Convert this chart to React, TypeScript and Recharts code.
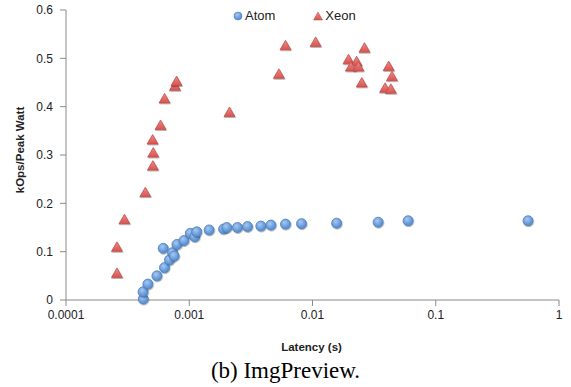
import React from 'react';
import { ScatterChart, Scatter, XAxis, YAxis } from 'recharts';

const atomLatency = [0.000424, 0.000422, 0.000462, 0.000547, 0.00063, 0.000615, 0.000692, 0.000732, 0.000755, 0.000795, 0.000906, 0.00102, 0.00111, 0.00115, 0.00145, 0.0019, 0.00202, 0.00246, 0.00297, 0.00381, 0.0046, 0.00604, 0.00815, 0.0157, 0.0341, 0.0597, 0.561];
const atomEff = [0.002, 0.017, 0.033, 0.05, 0.067, 0.107, 0.083, 0.098, 0.091, 0.115, 0.123, 0.138, 0.131, 0.141, 0.145, 0.147, 0.15, 0.15, 0.152, 0.153, 0.155, 0.157, 0.158, 0.159, 0.161, 0.164, 0.164];

const xeonLatency = [0.000259, 0.000259, 0.000298, 0.00044, 0.000507, 0.00051, 0.000504, 0.000585, 0.00063, 0.000766, 0.000789, 0.00212, 0.00534, 0.00604, 0.0106, 0.0196, 0.0228, 0.0205, 0.0236, 0.0264, 0.0251, 0.0415, 0.0441, 0.0388, 0.0432];
const xeonEff = [0.055, 0.109, 0.166, 0.222, 0.277, 0.304, 0.331, 0.361, 0.416, 0.442, 0.452, 0.388, 0.467, 0.526, 0.533, 0.497, 0.493, 0.482, 0.482, 0.521, 0.449, 0.483, 0.462, 0.438, 0.436];

const xTicks = [0.0001, 0.001, 0.01, 0.1, 1];
const xTickLabels = ['0.0001', '0.001', '0.01', '0.1', '1'];
const yTicks = [0, 0.1, 0.2, 0.3, 0.4, 0.5, 0.6];
const yTickLabels = ['0', '0.1', '0.2', '0.3', '0.4', '0.5', '0.6'];

const atomData = atomLatency.map((x, i) => ({ x, y: atomEff[i] }));
const xeonData = xeonLatency.map((x, i) => ({ x, y: xeonEff[i] }));

const FONT = '"Liberation Sans", Arial, sans-serif';
const AXIS = '#8a8a8a';

const Circle = (p: any) => (
  <circle cx={p.cx} cy={p.cy} r={5} fill="url(#blueGrad)" stroke="#4f81bd" strokeWidth={0.8} filter="url(#shadow)" />
);
const Tri = (p: any) => {
  const { cx, cy } = p;
  const d = `M${cx},${cy - 5.5} L${cx + 5.5},${cy + 4} L${cx - 5.5},${cy + 4} Z`;
  return <path d={d} fill="url(#redGrad)" stroke="#b94a48" strokeWidth={0.7} filter="url(#shadow)" />;
};

export default function App() {
  return (
    <div style={{ position: 'absolute', left: 0, top: 0, width: 571, height: 387, background: '#fff' }}>
      <svg width={0} height={0} style={{ position: 'absolute' }}>
        <defs>
          <radialGradient id="blueGrad" cx="40%" cy="35%" r="70%">
            <stop offset="0%" stopColor="#a9c8f0" />
            <stop offset="60%" stopColor="#6b9edb" />
            <stop offset="100%" stopColor="#4f86cc" />
          </radialGradient>
          <linearGradient id="redGrad" x1="0" y1="0" x2="0" y2="1">
            <stop offset="0%" stopColor="#ee8a86" />
            <stop offset="100%" stopColor="#d9534f" />
          </linearGradient>
          <filter id="shadow" x="-50%" y="-50%" width="200%" height="200%">
            <feDropShadow dx="0.5" dy="1" stdDeviation="0.7" floodColor="#000" floodOpacity="0.35" />
          </filter>
        </defs>
      </svg>
      <ScatterChart width={571} height={360} margin={{ top: 10, right: 12, left: 0, bottom: 0 }}>
        <XAxis
          type="number"
          dataKey="x"
          scale="log"
          domain={[0.0001, 1]}
          ticks={xTicks}
          allowDataOverflow
          height={60}
          tickFormatter={(v: number) => xTickLabels[xTicks.indexOf(v)] ?? String(v)}
          tick={{ fill: '#222', fontSize: 12, fontFamily: FONT }}
          tickMargin={4}
          stroke={AXIS}
          label={{
            content: (props: any) => {
              const vb = props.viewBox;
              return (
                <text x={vb.x + vb.width / 2 - 1} y={351} textAnchor="middle" fontFamily={FONT} fontWeight="bold" fontSize={11.5} fill="#222">
                  Latency (s)
                </text>
              );
            },
          }}
        />
        <YAxis
          type="number"
          dataKey="y"
          domain={[0, 0.6]}
          ticks={yTicks}
          width={66}
          tickFormatter={(v: number) => yTickLabels[yTicks.indexOf(v)] ?? String(v)}
          tick={{ fill: '#222', fontSize: 12, fontFamily: FONT }}
          tickMargin={7}
          stroke={AXIS}
          label={{
            content: () => (
              <text x={0} y={0} transform="translate(24,150) rotate(-90)" textAnchor="middle" fontFamily={FONT} fontWeight="bold" fontSize={11.5} fill="#222">
                kOps/Peak Watt
              </text>
            ),
          }}
        />
        <Scatter name="Xeon" data={xeonData} shape={Tri} isAnimationActive={false} />
        <Scatter name="Atom" data={atomData} shape={Circle} isAnimationActive={false} />
      </ScatterChart>
      <div style={{ position: 'absolute', top: 8, left: 233, display: 'flex', alignItems: 'center', fontFamily: FONT, fontSize: 13, color: '#222' }}>
        <svg width={10} height={10}><circle cx={5} cy={5} r={4} fill="url(#blueGrad)" stroke="#4f81bd" strokeWidth={0.6} /></svg>
        <span style={{ marginLeft: 2 }}>Atom</span>
        <svg width={10} height={10} style={{ marginLeft: 38 }}><path d="M5,1 L9.5,9 L0.5,9 Z" fill="url(#redGrad)" stroke="#b94a48" strokeWidth={0.5} /></svg>
        <span style={{ marginLeft: 2 }}>Xeon</span>
      </div>
      <div style={{ position: 'absolute', top: 357, left: 0, width: 571, textAlign: 'center', fontFamily: '"Liberation Serif", "Times New Roman", serif', fontSize: 23, color: '#000', lineHeight: '28px' }}>
        (b) ImgPreview.
      </div>
    </div>
  );
}
